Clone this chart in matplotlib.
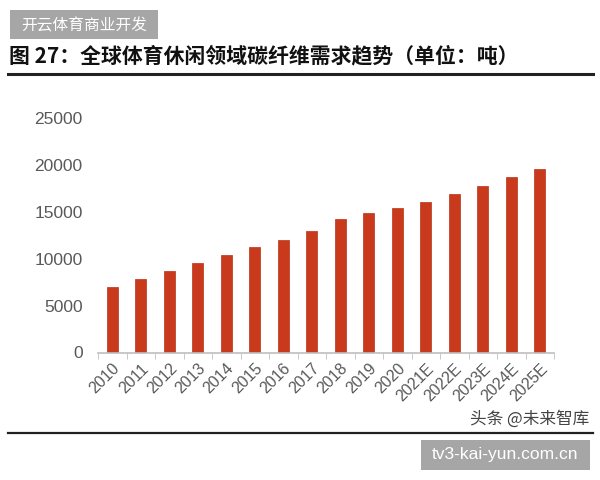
import matplotlib
matplotlib.use("Agg")
import matplotlib.pyplot as plt
from matplotlib.patches import Rectangle
from matplotlib.ticker import FixedLocator

plt.rcParams['font.family'] = ['Liberation Sans', 'Noto Sans CJK SC', 'DejaVu Sans']

years = ['2010', '2011', '2012', '2013', '2014', '2015', '2016', '2017',
         '2018', '2019', '2020', '2021E', '2022E', '2023E', '2024E', '2025E']
demand = [7000, 7800, 8700, 9500, 10400, 11300, 12000, 12900,
          14200, 14900, 15400, 16000, 16900, 17800, 18700, 19600]

fig = plt.figure(figsize=(6, 4.8), dpi=100)
W, H = 600, 480

def fx(px):
    return px / W

def fy(py):
    return 1 - py / H

# 顶部灰色标签
fig.patches.append(Rectangle((fx(10), fy(39)), fx(148), 29 / H, transform=fig.transFigure,
                             facecolor='#a6a6a6', edgecolor='none'))
fig.text(fx(84), fy(26), '开云体育商业开发', color='white', fontsize=11.3,
         family=['Noto Sans CJK SC'], va='center', ha='center')

# 标题
fig.text(fx(9), fy(56), '图 27：全球体育休闲领域碳纤维需求趋势（单位：吨）', fontsize=15,
         fontweight='bold', family=['Noto Sans CJK SC', 'DejaVu Sans'],
         va='center', ha='left', color='#111111')
fig.add_artist(plt.Line2D([fx(8), fx(593)], [fy(74), fy(74)], color='#222222', lw=2.2,
                          transform=fig.transFigure))
fig.add_artist(plt.Line2D([fx(8), fx(593)], [fy(433), fy(433)], color='#222222', lw=1.6,
                          transform=fig.transFigure))

ax = fig.add_axes([fx(98), fy(352.5), fx(554 - 98), (352.5 - 118) / H])
x = range(len(years))
ax.bar(x, demand, width=0.37, color='#c9391c', edgecolor='#b83218', linewidth=0.5)
ax.set_xlim(-0.5, len(years) - 0.5)
ax.set_ylim(0, 25000)
ax.set_yticks([0, 5000, 10000, 15000, 20000, 25000])
ax.set_xticks(list(x))
ax.set_xticklabels(years, rotation=45, ha='right', rotation_mode='anchor')
ax.xaxis.set_minor_locator(FixedLocator([i - 0.5 for i in range(len(years) + 1)]))
ax.tick_params(axis='x', which='major', length=0, pad=6, labelsize=11.5, labelcolor='#595959')
ax.tick_params(axis='x', which='minor', length=4, color='#bfbfbf', direction='out')
ax.tick_params(axis='y', length=0, pad=11, labelsize=12.5, labelcolor='#595959')
for s in ['top', 'right', 'left']:
    ax.spines[s].set_visible(False)
ax.spines['bottom'].set_color('#bfbfbf')
ax.spines['bottom'].set_linewidth(1.2)

fig.text(fx(589), fy(419), '头条 @未来智库', fontsize=12, color='#444444',
         family=['Noto Sans CJK SC', 'DejaVu Sans'], ha='right', va='center')

fig.patches.append(Rectangle((fx(421), fy(470)), fx(169), 30 / H, transform=fig.transFigure,
                             facecolor='#a6a6a6', edgecolor='none'))
fig.text(fx(505), fy(455), 'tv3-kai-yun.com.cn', color='white', fontsize=12.5,
         ha='center', va='center')

fig.savefig('out.png', dpi=100, facecolor='white')
